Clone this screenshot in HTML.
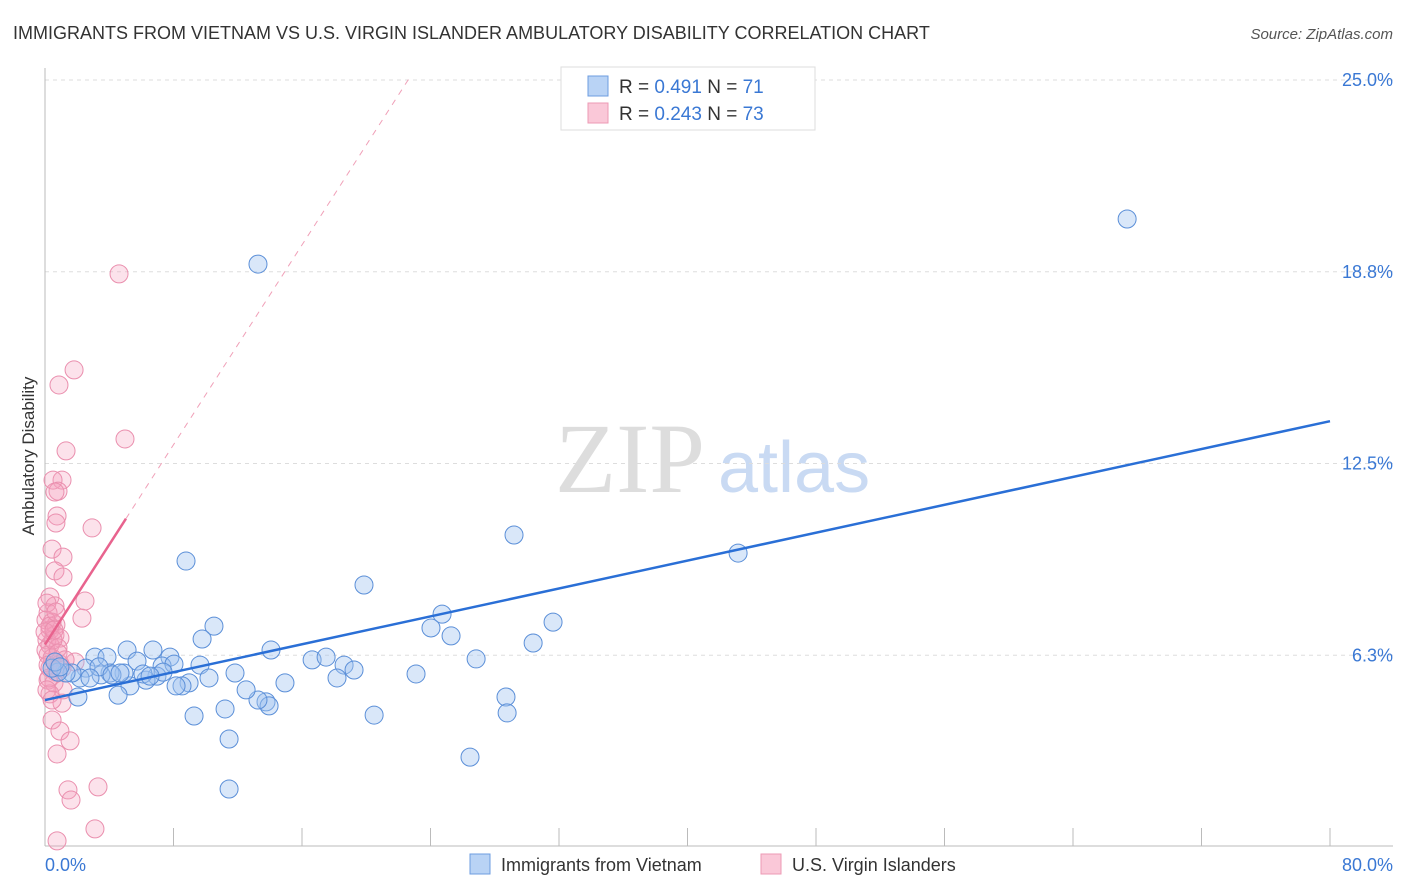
<!DOCTYPE html>
<html><head><meta charset="utf-8"><style>
body{margin:0;background:#fff;font-family:"Liberation Sans",sans-serif}
svg{display:block}
</style></head><body>
<svg id="chart" width="1406" height="892">
<text x="13" y="39" font-size="18" fill="#333">IMMIGRANTS FROM VIETNAM VS U.S. VIRGIN ISLANDER AMBULATORY DISABILITY CORRELATION CHART</text>
<text x="1393" y="39" font-size="15" fill="#555" font-style="italic" text-anchor="end">Source: ZipAtlas.com</text>
<text x="555" y="492" font-size="100" fill="#ddd" font-family="Liberation Serif,serif">ZIP</text>
<text x="718" y="492" font-size="72" fill="#c9daf3">atlas</text>
<g id="grid"></g>
<g id="axes"></g>
<g id="pink"></g>
<g id="blue"></g>
<g id="trends"></g>
<text transform="translate(34,456) rotate(-90)" font-size="17" fill="#333" text-anchor="middle">Ambulatory Disability</text>
<g>
<rect x="561" y="67" width="254" height="63" fill="#fff" stroke="#ddd"/>
<rect x="588" y="76" width="20" height="20" fill="#b9d3f5" stroke="#6d9de0"/>
<rect x="588" y="103" width="20" height="20" fill="#fac8d8" stroke="#ec9ab4"/>
<text x="619" y="93" font-size="19" fill="#333">R = <tspan fill="#3a78d4">0.491</tspan>   N = <tspan fill="#3a78d4">71</tspan></text>
<text x="619" y="120" font-size="19" fill="#333">R = <tspan fill="#3a78d4">0.243</tspan>   N = <tspan fill="#3a78d4">73</tspan></text>
</g>
<rect x="470" y="854" width="20" height="20" fill="#b9d3f5" stroke="#6d9de0"/>
<text x="501" y="871" font-size="18" fill="#333">Immigrants from Vietnam</text>
<rect x="761" y="854" width="20" height="20" fill="#fac8d8" stroke="#ec9ab4"/>
<text x="792" y="871" font-size="18" fill="#333">U.S. Virgin Islanders</text>
<text x="45" y="871" font-size="18" fill="#3a78d4">0.0%</text>
<text x="1393" y="871" font-size="18" fill="#3a78d4" text-anchor="end">80.0%</text>
</svg>
<script>
const yTicks=[25,18.75,12.5,6.25];
const yTickLabels=["25.0%","18.8%","12.5%","6.3%"];
const blueX=[13.26,67.37,29.2,43.15,8.78,19.86,24.72,24.03,25.28,31.63,30.39,10.52,9.78,5.11,6.72,3.11,3.86,5.73,7.78,7.29,8.03,9.65,11.83,14.07,16.63,17.5,18.62,19.24,18.18,23.1,26.84,28.7,28.77,26.46,20.49,14.94,13.76,13.95,13.26,12.52,11.21,9.28,11.46,11.46,10.21,8.97,8.53,8.16,6.97,6.29,6.1,5.29,4.55,4.92,4.05,3.49,2.55,2.18,2.05,1.68,1.31,0.81,0.44,0.62,0.93,3.36,7.35,6.54,4.17,2.8,4.67];
const blueY=[19.0,20.47,10.17,9.58,9.32,8.54,7.59,7.14,6.88,7.33,6.65,7.2,6.78,6.42,6.42,6.19,6.19,6.06,6.19,5.9,5.96,5.93,5.67,6.42,6.1,6.19,5.93,5.77,5.51,5.64,6.13,4.89,4.37,2.93,4.3,5.35,4.73,4.6,4.79,5.12,4.5,4.27,3.52,1.89,5.51,5.35,5.25,5.25,5.57,5.44,5.64,5.25,4.95,5.67,5.67,5.61,5.83,5.51,4.89,5.67,5.67,5.7,5.83,6.03,5.87,5.87,5.7,5.57,5.61,5.51,5.67];
const pinkX=[4.61,1.81,0.87,4.98,1.31,1.06,0.5,0.81,0.62,0.75,0.68,2.93,0.44,1.12,0.62,1.12,0.31,2.49,0.62,2.3,0.19,0.44,0.68,0.31,0.62,0.93,0.12,0.31,0.81,0.19,0.44,0.62,0.93,1.87,0.31,0.68,0.19,0.56,1.12,0.31,1.06,0.44,0.93,1.56,0.75,1.43,1.62,3.3,3.11,0.75,0.06,0.31,0.06,0.19,0.5,0.12,0.0,0.68,0.81,0.25,1.06,1.25,0.12,0.44,0.56];
const pinkY=[18.68,15.55,15.06,13.3,12.91,11.96,11.96,11.6,11.57,10.79,10.56,10.4,9.71,9.45,9.0,8.8,8.15,8.02,7.86,7.46,7.63,7.33,7.24,7.07,6.91,6.81,6.75,6.58,6.49,6.26,6.16,6.03,5.96,6.03,5.83,5.7,5.44,5.35,5.12,4.99,4.69,4.14,3.78,3.46,3.03,1.86,1.53,1.96,0.59,0.2,7.4,7.2,6.42,5.93,6.75,7.95,7.01,7.66,6.32,5.51,5.83,6.1,5.12,4.79,7.07];
const blueTrend=[4.79,13.88];   // y at x=0 and x=80
const pinkTrend=[6.6,0.814];    // intercept, slope per %
const NS="http://www.w3.org/2000/svg";
const sx=v=>45+v*1285/80, sy=v=>847-v*767/25;
function mk(tag,parent,attrs){const e=document.createElementNS(NS,tag);for(const k in attrs)e.setAttribute(k,attrs[k]);parent.appendChild(e);return e;}
const grid=document.getElementById('grid'),axes=document.getElementById('axes');
yTicks.forEach((t,i)=>{
 const l=mk('line',grid,{x1:45,x2:1393,y1:sy(t),y2:sy(t),stroke:'#ddd','stroke-dasharray':'4,4'});
 
 
 const tx=mk('text',grid,{x:1393,y:sy(t)+6,'font-size':18,fill:'#3a78d4','text-anchor':'end'});
 tx.textContent=yTickLabels[i];
 
 
});
const ya=mk('line',axes,{x1:45,x2:45,y1:68,y2:846,stroke:'#bbb'});


const xa=mk('line',axes,{x1:45,x2:1393,y1:846,y2:846,stroke:'#bbb'});


for(let i=0;i<=10;i++){
 const t=mk('line',axes,{x1:sx(i*8),x2:sx(i*8),y1:828,y2:846,stroke:'#bbb'});
 
 
}
const pg=document.getElementById('pink'),bg=document.getElementById('blue');
pinkX.forEach((x,i)=>{
 const c=mk('circle',pg,{cx:sx(x),cy:sy(pinkY[i]),r:9,fill:'rgba(245,160,190,0.3)',stroke:'#ea8fae','stroke-width':1});
 
 
});
blueX.forEach((x,i)=>{
 const c=mk('circle',bg,{cx:sx(x),cy:sy(blueY[i]),r:9,fill:'rgba(160,196,240,0.4)',stroke:'#5b8fd8','stroke-width':1});
 
 
});
const tg=document.getElementById('trends');
const pe=(25.1-pinkTrend[0])/pinkTrend[1];
const pd=mk('line',tg,{x1:sx(5.04),y1:sy(pinkTrend[0]+pinkTrend[1]*5.04),x2:sx(pe),y2:sy(pinkTrend[0]+pinkTrend[1]*pe),stroke:'#f0a0b8','stroke-dasharray':'6,6','stroke-width':1});


const ps=mk('line',tg,{x1:sx(0),y1:sy(pinkTrend[0]),x2:sx(5.04),y2:sy(pinkTrend[0]+pinkTrend[1]*5.04),stroke:'#e8638e','stroke-width':2.5});


const bl=mk('line',tg,{x1:sx(0),y1:sy(blueTrend[0]),x2:sx(80),y2:sy(blueTrend[1]),stroke:'#2a6fd6','stroke-width':2.5});


</script>
</body></html>
